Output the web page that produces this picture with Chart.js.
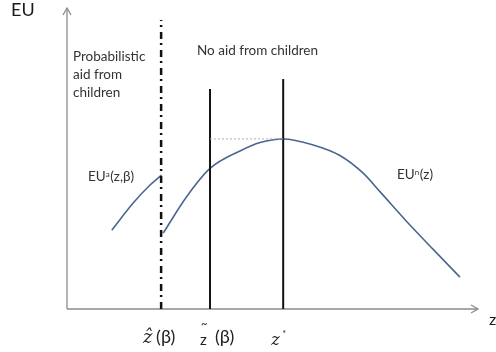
<!DOCTYPE html>
<html>
<head>
<meta charset="utf-8">
<script src="https://cdn.jsdelivr.net/npm/chart.js@4.4.0/dist/chart.umd.min.js"></script>
<style>
  html, body { margin: 0; padding: 0; background: #fff; }
  #wrap { width: 496px; height: 352px; }
</style>
</head>
<body>
<div id="wrap"><canvas id="myChart"></canvas></div>
<script>
// curve (z, EU) in abstract units 0..10
let aidZ = [1.09, 1.61, 2.02, 2.30];
let aidEU = [2.62, 3.52, 4.12, 4.45];

let noAidZ = [2.34, 2.91, 3.48, 4.21, 4.70, 5.26, 5.99, 6.64, 7.20, 7.62, 8.27, 8.91, 9.56];
let noAidEU = [2.52, 3.73, 4.67, 5.25, 5.53, 5.65, 5.45, 5.10, 4.52, 3.89, 2.90, 1.98, 1.06];

// thresholds on the z axis and how high their lines reach
let zHat = 2.29, zTilde = 3.48, zStar = 5.26;
let zHatTop = 9.6, zTildeTop = 7.31, zStarTop = 7.64;
let peakEU = 5.65;

const font = 'Lato, "Open Sans", sans-serif';

function pts(xs, ys) {
  return xs.map((x, i) => ({ x: x, y: ys[i] }));
}

// EU with a small raised letter, then the rest
function supLabel(ctx, x, y, sup, rest) {
  ctx.font = '13.5px ' + font;
  ctx.fillText('EU', x, y);
  let w = ctx.measureText('EU').width;
  ctx.font = '8px ' + font;
  ctx.fillText(sup, x + w, y - 3);
  let w2 = ctx.measureText(sup).width;
  ctx.font = '13.5px ' + font;
  ctx.fillText(rest, x + w + w2 + 0.5, y);
}

const axesAndText = {
  id: 'axesAndText',
  beforeDatasetsDraw(chart) {
    const ctx = chart.ctx;
    const xs = chart.scales.x, ys = chart.scales.y;
    const x0 = xs.getPixelForValue(0), x1 = xs.getPixelForValue(10);
    const y0 = ys.getPixelForValue(0), y1 = ys.getPixelForValue(10);
    ctx.save();
    ctx.strokeStyle = '#8c8c8c';
    ctx.lineWidth = 1.3;
    ctx.beginPath();
    ctx.moveTo(x0, y0); ctx.lineTo(x0, y1);
    ctx.moveTo(x0, y0); ctx.lineTo(x1, y0);
    ctx.stroke();
    // arrow heads
    ctx.beginPath();
    ctx.moveTo(x0 - 4, y1 + 7); ctx.lineTo(x0, y1); ctx.lineTo(x0 + 4, y1 + 7);
    ctx.moveTo(x1 - 7, y0 - 4); ctx.lineTo(x1, y0); ctx.lineTo(x1 - 7, y0 + 4);
    ctx.stroke();
    ctx.restore();
  },
  afterDatasetsDraw(chart) {
    const ctx = chart.ctx;
    const xs = chart.scales.x;
    const X = v => xs.getPixelForValue(v);
    ctx.save();
    ctx.textBaseline = 'middle';
    ctx.textAlign = 'left';
    ctx.fillStyle = '#1a1a1a';
    ctx.font = '18px ' + font;
    ctx.fillText('EU', 11, 10);
    ctx.font = '16px ' + font;
    ctx.fillText('z', 489, 320);

    ctx.fillStyle = '#333';
    ctx.font = '13.5px ' + font;
    ctx.fillText('Probabilistic', 73, 57);
    ctx.fillText('aid from', 73, 75);
    ctx.fillText('children', 73, 93);
    ctx.fillText('No aid from children', 197, 51);
    supLabel(ctx, 88, 177, 'a', '(z,\u03b2)');
    supLabel(ctx, 397, 175, 'n', '(z)');

    // tick labels under the z axis
    ctx.fillStyle = '#222';
    ctx.font = 'italic 18px "DejaVu Serif", serif';
    ctx.fillText('\u1e91', X(zHat) - 18, 338);
    ctx.font = '18px ' + font;
    ctx.fillText('(\u03b2)', X(zHat) - 5, 337);
    ctx.font = '15px ' + font;
    ctx.fillText('z', X(zTilde) - 10, 340);
    ctx.font = '11px ' + font;
    ctx.fillText('~', X(zTilde) - 9, 324);
    ctx.font = '18px ' + font;
    ctx.fillText('(\u03b2)', X(zTilde) + 5, 337);
    ctx.font = 'italic 16px "DejaVu Serif", serif';
    ctx.fillText('z', X(zStar) - 12, 341);
    ctx.font = '9px ' + font;
    ctx.fillText('*', X(zStar) - 1, 334);
    ctx.restore();
  }
};

new Chart(document.getElementById('myChart'), {
  type: 'scatter',
  data: {
    datasets: [
      {
        label: 'dotted level',
        data: [{ x: zTilde, y: peakEU }, { x: zStar, y: peakEU }],
        showLine: true, borderColor: '#b0b0b0', borderWidth: 1,
        borderDash: [2, 2], pointRadius: 0
      },
      {
        label: 'z hat',
        data: [{ x: zHat, y: 0 }, { x: zHat, y: zHatTop }],
        showLine: true, borderColor: '#111', borderWidth: 2.5,
        borderDash: [7, 5, 2, 4], pointRadius: 0
      },
      {
        label: 'z tilde',
        data: [{ x: zTilde, y: 0 }, { x: zTilde, y: zTildeTop }],
        showLine: true, borderColor: '#111', borderWidth: 2, pointRadius: 0
      },
      {
        label: 'z star',
        data: [{ x: zStar, y: 0 }, { x: zStar, y: zStarTop }],
        showLine: true, borderColor: '#111', borderWidth: 2, pointRadius: 0
      },
      {
        label: 'EU a',
        data: pts(aidZ, aidEU),
        showLine: true, borderColor: '#4b6591', borderWidth: 1.6,
        cubicInterpolationMode: 'monotone', pointRadius: 0
      },
      {
        label: 'EU n',
        data: pts(noAidZ, noAidEU),
        showLine: true, borderColor: '#4b6591', borderWidth: 1.6,
        cubicInterpolationMode: 'monotone', pointRadius: 0
      }
    ]
  },
  options: {
    responsive: true,
    maintainAspectRatio: false,
    animation: false,
    clip: false,
    layout: { padding: { left: 67, top: 8, right: 18, bottom: 43 } },
    plugins: { legend: { display: false }, tooltip: { enabled: false } },
    scales: {
      x: { type: 'linear', min: 0, max: 10, display: false },
      y: { type: 'linear', min: 0, max: 10, display: false }
    }
  },
  plugins: [axesAndText]
});
</script>
</body>
</html>
